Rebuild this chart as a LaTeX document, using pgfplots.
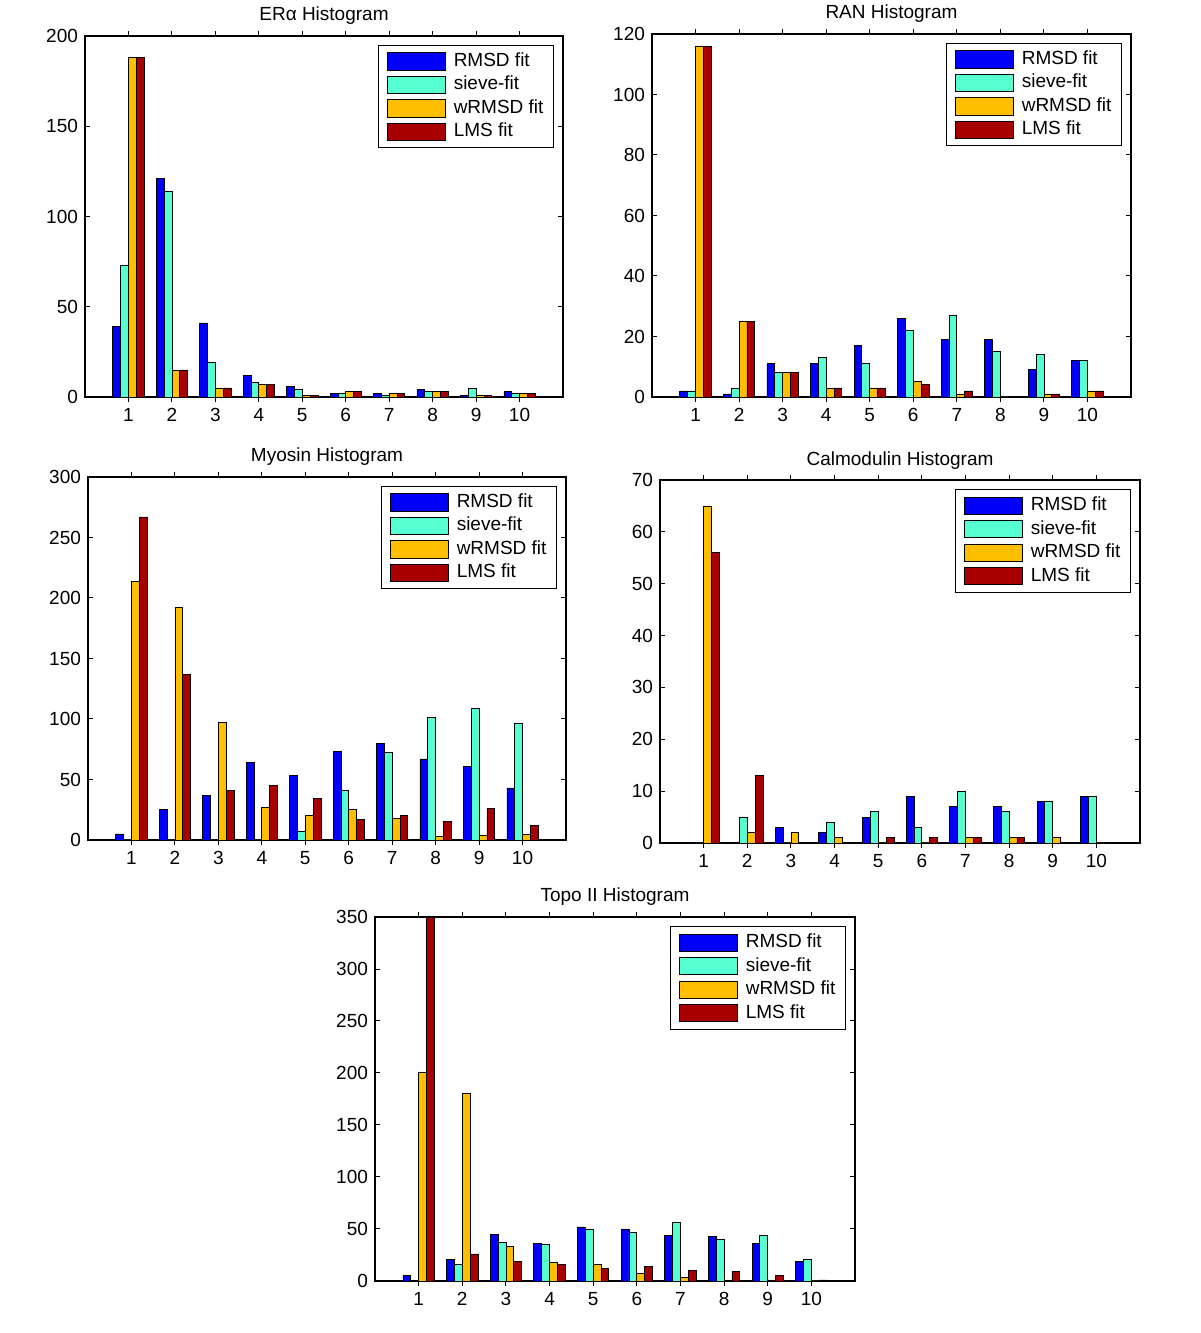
\documentclass[border=0pt]{standalone}
\usepackage{pgfplots}
\pgfplotsset{compat=1.18}
\usepackage{fontspec}
\setmainfont{Liberation Sans}
\newcommand\fsz{\fontsize{9.5}{11}\selectfont}
\definecolor{cB}{RGB}{0,0,250}
\definecolor{cC}{RGB}{85,255,210}
\definecolor{cO}{RGB}{255,190,0}
\definecolor{cR}{RGB}{168,0,0}
\pgfplotsset{
  hist/.style={
    scale only axis, ybar=0pt, bar width=0.18,
    xmin=0, xmax=11, ymin=0, xtick={1,...,10},
    axis line style={line width=0.6pt},
    major tick length=2.5pt,
    tick style={line width=0.5pt, black},
    tick label style={font=\fsz},
    /pgf/number format/assume math mode=true,
    scaled y ticks=false,
    every axis title shift=0pt,
    title style={font=\fsz, at={(0.5,1)}, anchor=base, yshift=7.5pt},
    xticklabel style={anchor=base, yshift=-10pt},
    legend cell align=left,
    legend style={at={(1,1)}, anchor=north east, xshift=-4.5pt, yshift=-4.5pt,
      draw=black, line width=0.5pt, font=\fsz, inner xsep=4pt, inner ysep=2.5pt,
      row sep=0.75pt, nodes={inner sep=1pt, text height=7pt, text depth=2pt},
      /tikz/every odd column/.append style={column sep=3pt}},
  },
  mybar/.style={fill=#1, draw=black, line width=0.4pt,
    legend image code/.code={\draw[##1] (0pt,-4.3pt) rectangle (29pt,4.3pt);}},
}
\begin{document}
\begin{tikzpicture}
\useasboundingbox (0,0) rectangle (600pt,666.5pt);
% Panel 1
\begin{axis}[hist, at={(42.5pt,468pt)}, anchor=south west, width=239pt, height=180.5pt,
  ymax=200, ytick={0,50,...,200}, title={ERα Histogram}]
\addplot[mybar=cB] coordinates {(1,39)(2,121)(3,41)(4,12)(5,6)(6,2)(7,2)(8,4)(9,1)(10,3)};
\addplot[mybar=cC] coordinates {(1,73)(2,114)(3,19)(4,8)(5,4)(6,2)(7,1)(8,3)(9,5)(10,2)};
\addplot[mybar=cO] coordinates {(1,188)(2,15)(3,5)(4,7)(5,1)(6,3)(7,2)(8,3)(9,1)(10,2)};
\addplot[mybar=cR] coordinates {(1,188)(2,15)(3,5)(4,7)(5,1)(6,3)(7,2)(8,3)(9,1)(10,2)};
\legend{RMSD fit, sieve-fit, wRMSD fit, LMS fit}
\end{axis}
% Panel 2
\begin{axis}[hist, at={(326pt,468pt)}, anchor=south west, width=239.5pt, height=181.5pt,
  ymax=120, ytick={0,20,...,120}, title={RAN Histogram}]
\addplot[mybar=cB] coordinates {(1,2)(2,1)(3,11)(4,11)(5,17)(6,26)(7,19)(8,19)(9,9)(10,12)};
\addplot[mybar=cC] coordinates {(1,2)(2,3)(3,8)(4,13)(5,11)(6,22)(7,27)(8,15)(9,14)(10,12)};
\addplot[mybar=cO] coordinates {(1,116)(2,25)(3,8)(4,3)(5,3)(6,5)(7,1)(8,0)(9,1)(10,2)};
\addplot[mybar=cR] coordinates {(1,116)(2,25)(3,8)(4,3)(5,3)(6,4)(7,2)(8,0)(9,1)(10,2)};
\legend{RMSD fit, sieve-fit, wRMSD fit, LMS fit}
\end{axis}
% Panel 3
\begin{axis}[hist, at={(44pt,246.5pt)}, anchor=south west, width=239pt, height=181.5pt,
  ymax=300, ytick={0,50,...,300}, title={Myosin Histogram}]
\addplot[mybar=cB] coordinates {(1,5)(2,25)(3,37)(4,64)(5,53)(6,73)(7,80)(8,67)(9,61)(10,43)};
\addplot[mybar=cC] coordinates {(1,0)(2,0)(3,0)(4,0)(5,7)(6,41)(7,72)(8,101)(9,109)(10,96)};
\addplot[mybar=cO] coordinates {(1,214)(2,192)(3,97)(4,27)(5,20)(6,25)(7,18)(8,3)(9,4)(10,5)};
\addplot[mybar=cR] coordinates {(1,267)(2,137)(3,41)(4,45)(5,34)(6,17)(7,20)(8,15)(9,26)(10,12)};
\legend{RMSD fit, sieve-fit, wRMSD fit, LMS fit}
\end{axis}
% Panel 4
\begin{axis}[hist, at={(330pt,245pt)}, anchor=south west, width=240pt, height=181.5pt,
  ymax=70, ytick={0,10,...,70}, title={Calmodulin Histogram}]
\addplot[mybar=cB] coordinates {(1,0)(2,0)(3,3)(4,2)(5,5)(6,9)(7,7)(8,7)(9,8)(10,9)};
\addplot[mybar=cC] coordinates {(1,0)(2,5)(3,0)(4,4)(5,6)(6,3)(7,10)(8,6)(9,8)(10,9)};
\addplot[mybar=cO] coordinates {(1,65)(2,2)(3,2)(4,1)(5,0)(6,0)(7,1)(8,1)(9,1)(10,0)};
\addplot[mybar=cR] coordinates {(1,56)(2,13)(3,0)(4,0)(5,1)(6,1)(7,1)(8,1)(9,0)(10,0)};
\legend{RMSD fit, sieve-fit, wRMSD fit, LMS fit}
\end{axis}
% Panel 5
\begin{axis}[hist, at={(187.5pt,26pt)}, anchor=south west, width=240pt, height=182pt,
  ymax=350, ytick={0,50,...,350}, title={Topo II Histogram}]
\addplot[mybar=cB] coordinates {(1,5)(2,21)(3,45)(4,36)(5,52)(6,50)(7,44)(8,43)(9,36)(10,19)};
\addplot[mybar=cC] coordinates {(1,1)(2,16)(3,37)(4,35)(5,50)(6,47)(7,56)(8,40)(9,44)(10,21)};
\addplot[mybar=cO] coordinates {(1,201)(2,180)(3,33)(4,18)(5,16)(6,7)(7,3)(8,1)(9,1)(10,0)};
\addplot[mybar=cR] coordinates {(1,350)(2,26)(3,19)(4,16)(5,12)(6,14)(7,10)(8,9)(9,5)(10,1)};
\legend{RMSD fit, sieve-fit, wRMSD fit, LMS fit}
\end{axis}
\end{tikzpicture}
\end{document}
